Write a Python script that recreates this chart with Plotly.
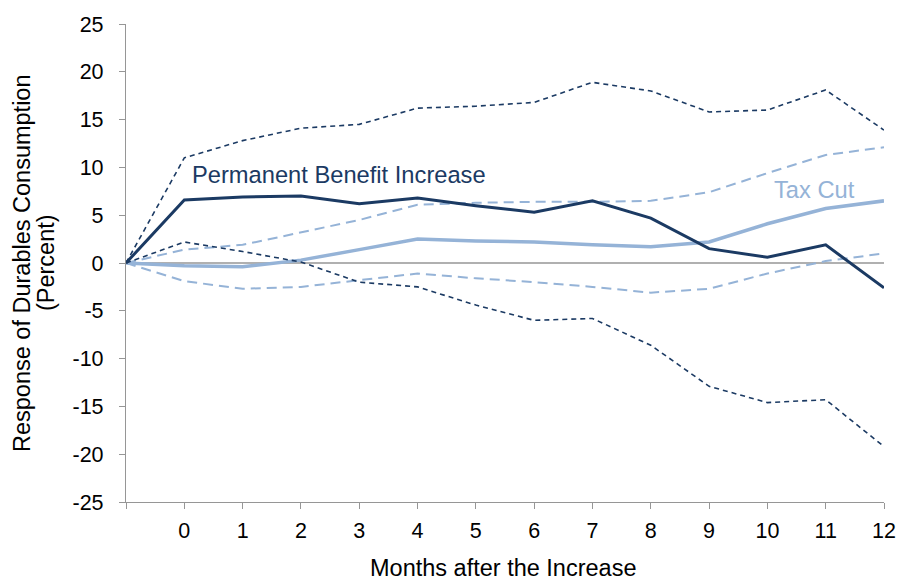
"""Response of durables consumption: permanent benefit increase vs tax cut."""
import plotly.graph_objects as go

months = [-1, 0, 1, 2, 3, 4, 5, 6, 7, 8, 9, 10, 11, 12]

benefit = [0, 6.6, 6.9, 7.0, 6.2, 6.8, 6.0, 5.3, 6.5, 4.7, 1.5, 0.6, 1.9, -2.6]
benefit_hi = [0, 11.0, 12.8, 14.1, 14.5, 16.2, 16.4, 16.8, 18.9, 18.0, 15.8, 16.0, 18.1, 13.9]
benefit_lo = [0, 2.2, 1.2, 0.1, -2.0, -2.5, -4.4, -6.0, -5.8, -8.6, -12.9, -14.6, -14.3, -19.2]

taxcut = [0, -0.3, -0.4, 0.3, 1.4, 2.5, 2.3, 2.2, 1.9, 1.7, 2.2, 4.1, 5.7, 6.5]
taxcut_hi = [0, 1.4, 1.9, 3.2, 4.5, 6.1, 6.3, 6.4, 6.4, 6.5, 7.4, 9.4, 11.3, 12.1]
taxcut_lo = [0, -1.9, -2.7, -2.5, -1.8, -1.1, -1.6, -2.0, -2.5, -3.1, -2.7, -1.1, 0.2, 1.0]

x_ticks = months
x_labels = [""] + [str(m) for m in months[1:]]
y_ticks = [-25, -20, -15, -10, -5, 0, 5, 10, 15, 20, 25]
y_labels = [str(v) for v in y_ticks]  # plain hyphen, not unicode minus

DARK = "#1b3a63"
LIGHT = "#95b3d7"
AXIS = "#969696"

fig = go.Figure()
# zero line
fig.add_trace(go.Scatter(x=[-1, 12], y=[0, 0], mode="lines",
                         line=dict(color=AXIS, width=1.3), hoverinfo="skip"))
fig.add_trace(go.Scatter(x=months, y=taxcut_hi, mode="lines",
                         line=dict(color=LIGHT, width=2, dash="10px,6px")))
fig.add_trace(go.Scatter(x=months, y=taxcut_lo, mode="lines",
                         line=dict(color=LIGHT, width=2, dash="10px,6px")))
fig.add_trace(go.Scatter(x=months, y=taxcut, mode="lines",
                         line=dict(color=LIGHT, width=3.5)))
fig.add_trace(go.Scatter(x=months, y=benefit_hi, mode="lines",
                         line=dict(color=DARK, width=1.6, dash="5px,4px")))
fig.add_trace(go.Scatter(x=months, y=benefit_lo, mode="lines",
                         line=dict(color=DARK, width=1.6, dash="5px,4px")))
fig.add_trace(go.Scatter(x=months, y=benefit, mode="lines",
                         line=dict(color=DARK, width=3)))

fig.add_annotation(x=0.1, y=9.2, text="Permanent Benefit Increase", showarrow=False,
                   xanchor="left", font=dict(size=23.7, color=DARK))
fig.add_annotation(x=10.08, y=7.6, text="Tax Cut", showarrow=False,
                   xanchor="left", font=dict(size=23.7, color=LIGHT))

# axis titles as annotations so they sit where the original has them
fig.add_annotation(xref="paper", yref="paper", x=0.497, y=-0.138,
                   text="Months after the Increase", showarrow=False,
                   xanchor="center", yanchor="middle", font=dict(size=23.5))
fig.add_annotation(xref="paper", yref="paper", x=-0.1372, y=0.5,
                   text="Response of Durables Consumption", showarrow=False,
                   textangle=-90, xanchor="center", yanchor="middle", font=dict(size=23.5))
fig.add_annotation(xref="paper", yref="paper", x=-0.1055, y=0.5,
                   text="(Percent)", showarrow=False,
                   textangle=-90, xanchor="center", yanchor="middle", font=dict(size=23.5))

fig.update_layout(
    width=899, height=580,
    margin=dict(l=126, r=15, t=24, b=78),
    paper_bgcolor="white", plot_bgcolor="white",
    showlegend=False,
    font=dict(family="Liberation Sans, Arial, sans-serif", size=21.5, color="#000"),
    xaxis=dict(
        range=[-1, 12], tickvals=x_ticks, ticktext=x_labels, automargin=False,
        showgrid=False, zeroline=False, showline=True, linecolor=AXIS, linewidth=1.3,
        ticks="outside", ticklen=6, tickcolor=AXIS, ticklabelstandoff=3,
    ),
    yaxis=dict(
        range=[-25, 25], tickvals=y_ticks, ticktext=y_labels, automargin=False,
        showgrid=False, zeroline=False, showline=True, linecolor=AXIS, linewidth=1.3,
        ticks="outside", ticklen=6, tickcolor=AXIS, ticklabelstandoff=11,
    ),
)

# the page's default body margin would push the figure 8px down and right
fig.write_html("out.html", config={"displayModeBar": False},
               post_script="document.body.style.margin='0';")
